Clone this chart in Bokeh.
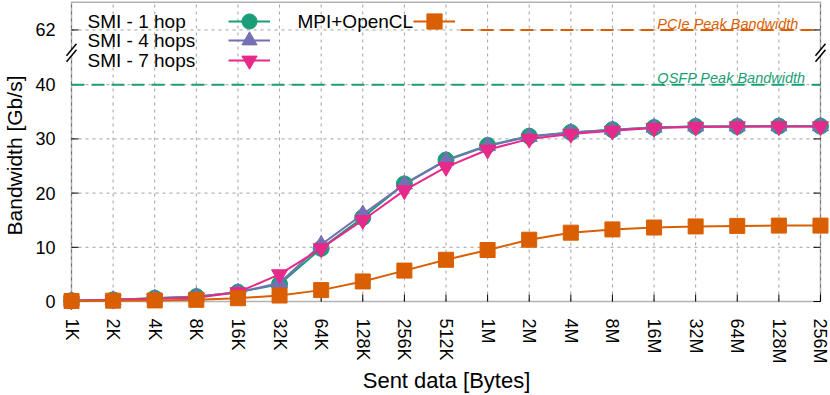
from bokeh.plotting import figure
from bokeh.models import (Range1d, FixedTicker, Label, Legend, LegendItem,
                          BoxAnnotation)
from bokeh.embed import file_html
from bokeh.resources import INLINE

# ---------------- data ----------------
sizes = ["1K", "2K", "4K", "8K", "16K", "32K", "64K", "128K", "256K", "512K",
         "1M", "2M", "4M", "8M", "16M", "32M", "64M", "128M", "256M"]
smi_1hop = [0.15, 0.3, 0.6, 0.9, 1.7, 3.2, 9.8, 15.5, 21.7, 26.1,
            28.8, 30.5, 31.2, 31.7, 32.1, 32.3, 32.3, 32.35, 32.35]
smi_4hops = [0.15, 0.3, 0.6, 0.9, 1.7, 3.4, 10.5, 16.1, 21.6, 26.0,
             28.7, 30.4, 31.2, 31.7, 32.1, 32.3, 32.3, 32.35, 32.35]
smi_7hops = [0.15, 0.3, 0.5, 0.7, 1.7, 5.0, 9.8, 15.0, 20.5, 24.8,
             28.0, 30.0, 30.9, 31.5, 32.0, 32.2, 32.3, 32.3, 32.3]
mpi_opencl = [0.1, 0.15, 0.2, 0.3, 0.6, 1.1, 2.1, 3.7, 5.7, 7.7,
              9.5, 11.4, 12.7, 13.3, 13.65, 13.85, 13.95, 14.0, 14.0]
y_ticks = [0, 10, 20, 30, 40]
pcie_peak = 62
qsfp_peak = 40
series_labels = ["SMI - 1 hop", "SMI - 4 hops", "SMI - 7 hops", "MPI+OpenCL"]

# ---------------- styles ----------------
GREEN, PURPLE, PINK, ORANGE = "#1b9e77", "#7570b3", "#e7298a", "#d95f02"
GRID = "#a0a0a0"
FONT = "Liberation Sans"
XPX = 41.61               # px per x unit
YPX = 5.42                # px per y unit
X_START = -9 / XPX
X_END = X_START + 768 / XPX
Y_START = -9 / YPX
Y_END = Y_START + 310 / YPX
BOX_TOP = 55.2
BREAK_SHIFT = 11.9        # upper (broken) segment shift in axis units
BREAK_Y = 45.9
PCIE_LINE_START = 9.35
PEAK_LABEL_X = 14.08

x = list(range(len(sizes)))
n = len(x)

p = figure(width=830, height=395, output_backend="svg", toolbar_location=None,
           x_range=Range1d(X_START, X_END), y_range=Range1d(Y_START, Y_END),
           min_border_left=62, min_border_right=0, min_border_top=0,
           min_border_bottom=85)
p.extra_y_ranges = {"top": Range1d(Y_START + BREAK_SHIFT, Y_END + BREAK_SHIFT)}
p.outline_line_color = None
p.xgrid.visible = False
p.ygrid.visible = False
p.background_fill_color = "white"
p.border_fill_color = "white"

# ---------------- axes ----------------
xa = p.xaxis[0]
xa.ticker = FixedTicker(ticks=x)
xa.major_label_overrides = {i: s for i, s in zip(x, sizes)}
xa.major_label_orientation = "vertical"
xa.axis_line_color = None
xa.major_tick_in = 0
xa.major_tick_out = 0
xa.minor_tick_line_color = None
xa.major_label_standoff = 8
xa.major_label_text_font = FONT
xa.major_label_text_font_size = "18px"
xa.major_label_text_color = "black"
xa.axis_label = "Sent data [Bytes]"
xa.axis_label_text_font = FONT
xa.axis_label_text_font_size = "22px"
xa.axis_label_text_font_style = "normal"
xa.axis_label_text_color = "black"
xa.axis_label_standoff = 1

pcie_pos = round(pcie_peak - BREAK_SHIFT, 3)
ya = p.yaxis[0]
ya.ticker = FixedTicker(ticks=y_ticks + [pcie_pos])
ya.major_label_overrides = {pcie_pos: str(pcie_peak)}
ya.axis_line_color = None
ya.major_tick_in = 0
ya.major_tick_out = 0
ya.minor_tick_line_color = None
ya.major_label_standoff = 7
ya.major_label_text_font = FONT
ya.major_label_text_font_size = "18px"
ya.major_label_text_color = "black"
ya.axis_label = "Bandwidth [Gb/s]"
ya.axis_label_text_font = FONT
ya.axis_label_text_font_size = "21px"
ya.axis_label_text_font_style = "normal"
ya.axis_label_text_color = "black"
ya.axis_label_standoff = 6

# ---------------- grid (inside the box) ----------------
p.segment(x0=x, y0=[0] * n, x1=x, y1=[BOX_TOP] * n, line_color=GRID,
          line_width=1, line_dash="3 4", level="underlay")
p.segment(x0=[x[0]] * (len(y_ticks) - 1), y0=y_ticks[1:],
          x1=[x[-1]] * (len(y_ticks) - 1), y1=y_ticks[1:], line_color=GRID,
          line_width=1, line_dash="3 4", level="underlay")
p.segment(x0=[x[0]], y0=[pcie_peak], x1=[x[-1]], y1=[pcie_peak], y_range_name="top",
          line_color=GRID, line_width=1, line_dash="3 4", level="underlay")

# box
box = BoxAnnotation(left=x[0], right=x[-1], bottom=0, top=BOX_TOP, fill_color=None,
                    fill_alpha=0, line_color="black", line_width=1.5, level="underlay")
p.add_layout(box)

# inward ticks
tick_y = y_ticks + [pcie_pos]
tl_x = 7 / XPX
tl_y = 7 / YPX
p.segment(x0=x, y0=[0] * n, x1=x, y1=[tl_y] * n, line_color="black", line_width=1)
p.segment(x0=[x[0]] * len(tick_y), y0=tick_y, x1=[x[0] + tl_x] * len(tick_y), y1=tick_y,
          line_color="black", line_width=1)
p.segment(x0=[x[-1] - tl_x] * len(tick_y), y0=tick_y, x1=[x[-1]] * len(tick_y), y1=tick_y,
          line_color="black", line_width=1)

# ---------------- peak lines ----------------
p.segment(x0=[x[0]], y0=[qsfp_peak], x1=[x[-1]], y1=[qsfp_peak], line_color=GREEN,
          line_width=2, line_dash="13 7")
p.segment(x0=[PCIE_LINE_START], y0=[pcie_peak], x1=[x[-1]], y1=[pcie_peak],
          y_range_name="top", line_color=ORANGE, line_width=2, line_dash="13 7")
p.add_layout(Label(x=PEAK_LABEL_X, y=pcie_peak, y_range_name="top", y_offset=6,
                   text="PCIe Peak Bandwidth", text_color=ORANGE, text_font=FONT,
                   text_font_style="italic", text_font_size="14.5px",
                   text_baseline="alphabetic"))
p.add_layout(Label(x=PEAK_LABEL_X, y=qsfp_peak, y_offset=7,
                   text="QSFP Peak Bandwidth", text_color=GREEN, text_font=FONT,
                   text_font_style="italic", text_font_size="14.5px",
                   text_baseline="alphabetic"))

# ---------------- series ----------------
specs = [(smi_1hop, GREEN, "circle", 16), (smi_4hops, PURPLE, "triangle", 16),
         (smi_7hops, PINK, "inverted_triangle", 16), (mpi_opencl, ORANGE, "square", 15)]
renderers = []
for vals, col, mk, sz in specs:
    ln = p.line(x, vals, line_color=col, line_width=2, line_join="round")
    sc = p.scatter(x, vals, marker=mk, size=sz, fill_color=col, line_color=col)
    renderers.append([ln, sc])

# ---------------- break marks ----------------
dx = 5 / XPX
dy = 6 / YPX
off = 3 / YPX
for cx in (x[0], x[-1]):
    p.patch([cx - dx, cx + dx, cx + dx, cx - dx],
            [BREAK_Y - dy + off, BREAK_Y + dy + off, BREAK_Y + dy - off, BREAK_Y - dy - off],
            fill_color="white", line_color=None, level="overlay")
    p.segment(x0=[cx - dx, cx - dx], y0=[BREAK_Y - dy + off, BREAK_Y - dy - off],
              x1=[cx + dx, cx + dx], y1=[BREAK_Y + dy + off, BREAK_Y + dy - off],
              line_color="black", line_width=1.5, level="overlay")

# ---------------- key (text then sample) ----------------
FRAME_BOTTOM = 310
FRAME_LEFT = 62
rows = [21, 40, 59.5, 21]
text_x = [87, 87, 87, 297]
sample_x = [228, 228, 228, 413]
GH = 38
for lab, rend, row, tx, sx in zip(series_labels, renderers, rows, text_x, sample_x):
    p.add_layout(Label(x=tx - FRAME_LEFT, y=FRAME_BOTTOM - row,
                       x_units="screen", y_units="screen", text=lab,
                       text_font=FONT, text_font_size="19px", text_color="black",
                       text_baseline="middle"))
    lg = Legend(items=[LegendItem(label=" ", renderers=rend)],
                location=(sx - FRAME_LEFT, FRAME_BOTTOM - row - GH / 2),
                glyph_width=42, glyph_height=GH, label_standoff=0, label_width=0,
                label_height=GH, padding=0, margin=0, spacing=0,
                border_line_color=None, background_fill_alpha=0,
                label_text_font_size="1px")
    p.add_layout(lg)

open("out.html", "w").write(file_html(p, INLINE))
